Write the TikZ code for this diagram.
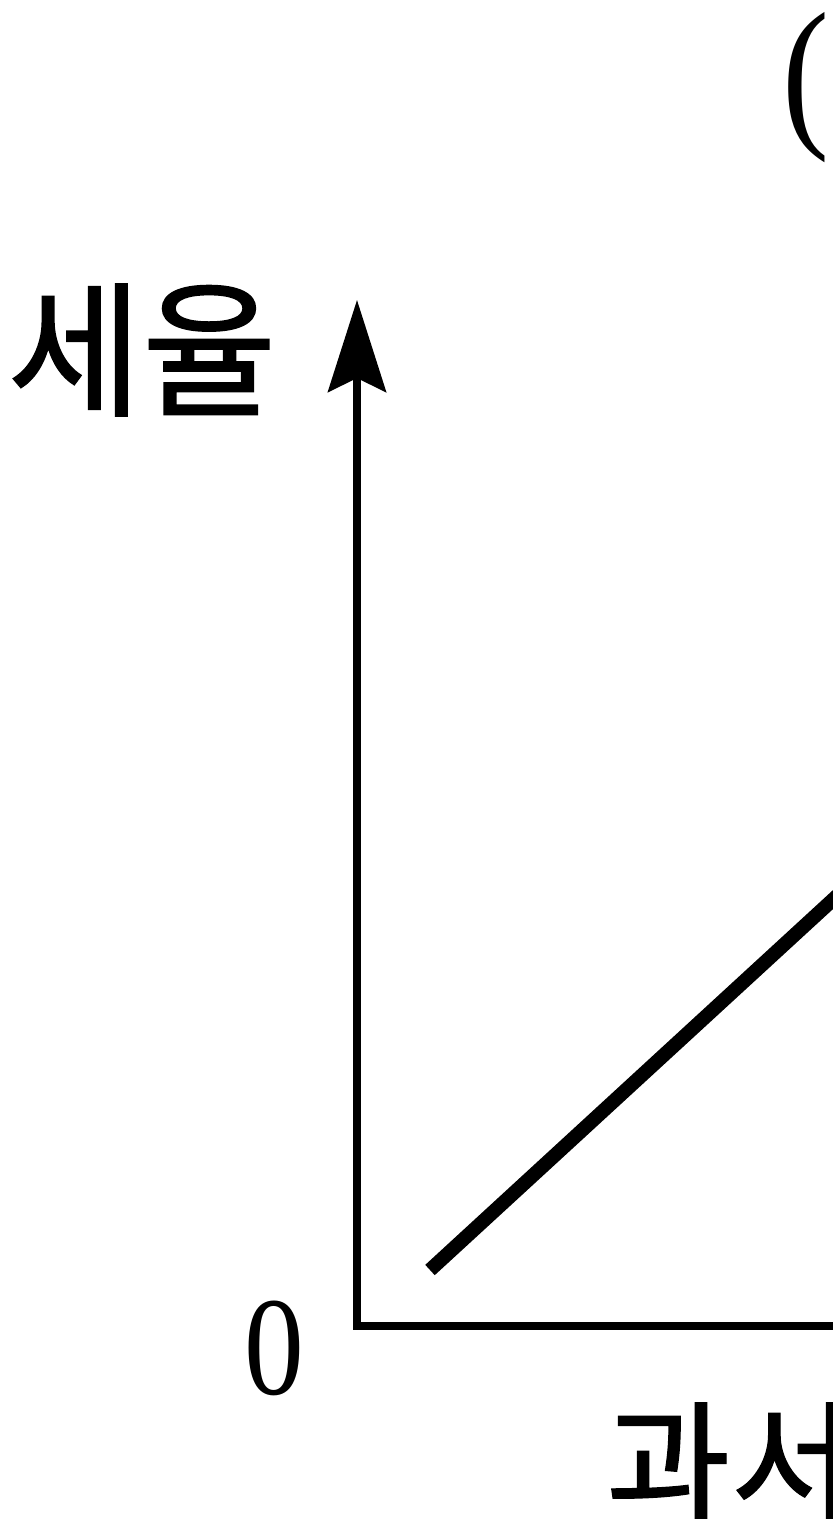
\documentclass[tikz,border=0pt]{standalone}
\usepackage{fontspec}
\setmainfont{Liberation Serif}
\newfontfamily\kr[FakeBold=1]{Noto Sans CJK KR}
\usetikzlibrary{arrows.meta}
\tikzset{
  axis/.style={line width=0.18cm, miter limit=10},
  curve/.style={line width=0.35cm},
  krlabel/.style={inner sep=0pt, font=\kr\fontsize{104}{104}\selectfont},
  numlabel/.style={inner sep=0pt, font=\fontsize{100}{100}\selectfont}
}
\begin{document}
\begin{tikzpicture}[x=0.025cm,y=-0.025cm]
        \useasboundingbox (0,0) rectangle (833,1519);
        \clip (0,0) rectangle (833,1519);
        \coordinate (O) at (357,1326);
        \coordinate (ytop) at (357,300);
        \coordinate (xend) at (900,1326);
        \coordinate (a) at (430,1270);
        \coordinate (b) at (900,838);

        \node[krlabel] (tax) at (142,350) {세율};
        \node[numlabel,xscale=0.85] (zero) at (274,1348) {0};
        \node[krlabel,anchor=west,font=\kr\fontsize{96}{96}\selectfont] (base) at (606,1464) {과서};
        \node[numlabel,font=\fontsize{118}{118}\selectfont,xscale=0.85] (paren) at (806,88) {(};

        \draw[axis, {Stealth[length=2.3cm, width=1.45cm, inset=0.35cm]}-] (ytop) -- (O) -- (xend);
        \draw[curve] (a) -- (b);
    \end{tikzpicture}
\end{document}
